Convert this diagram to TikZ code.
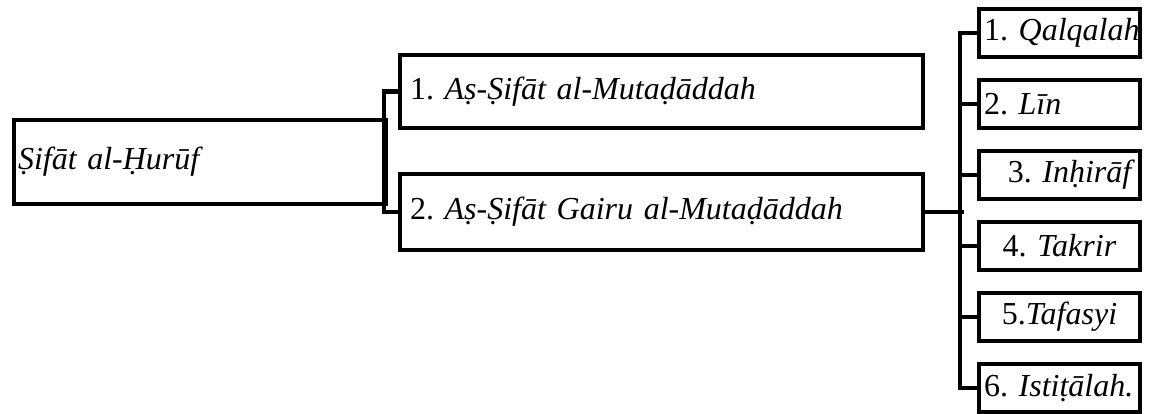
\documentclass[tikz,border=0pt]{standalone}
\usepackage{fontspec}
\setmainfont{Liberation Serif}
\frenchspacing
\begin{document}
\begin{tikzpicture}[x=1pt, y=-1pt, line width=4.5pt,
  box/.style={draw, rectangle, inner ysep=0pt, font=\fontsize{32}{38}\selectfont},
  rootbox/.style={box, inner xsep=4pt, minimum width=372, minimum height=84, text width=364, align=left},
  midbox/.style={box, inner xsep=10pt, minimum width=523, text width=503, align=left},
  leafbox/.style={box, inner xsep=5pt, minimum width=161, minimum height=48, text width=151}]
\useasboundingbox (0,0) rectangle (1152,414);
\node[rootbox] (sifat) at (200,162){\textit{Ṣifāt al-Ḥurūf}};
\node[midbox, minimum height=73] (mut) at (661.5,91.5){1. \textit{Aṣ-Ṣifāt al-Mutaḍāddah}};
\node[midbox, minimum height=76] (gmut) at (661.5,212){2. \textit{Aṣ-Ṣifāt Gairu al-Mutaḍāddah}};
\draw[](mut.west) -- ++(-14,0) |- (gmut.west);
\node[leafbox, align=left] (q1) at (1059.5,33){\mbox{1. \textit{Qalqalah}}};
\node[leafbox, align=left] (q2) at (1059.5,104){2. \textit{Līn}};
\node[leafbox, align=right] (q3) at (1059.5,175){3. \textit{Inḥirāf}};
\node[leafbox, align=center] (q4) at (1059.5,246){4. \textit{Takrir}};
\node[leafbox, align=center] (q5) at (1059.5,317){5.\textit{Tafasyi}};
\node[leafbox, align=left] (q6) at (1059.5,388){\mbox{6. \textit{Istiṭālah.}}};
\draw[](q1.west) -- ++(-17,0) |- (q6.west);
\foreach \i in {2,...,5}
  \draw[](q\i.west) -- ++(-17,0);
\draw[](gmut.east) -- ++(39,0);
\end{tikzpicture}
\end{document}
